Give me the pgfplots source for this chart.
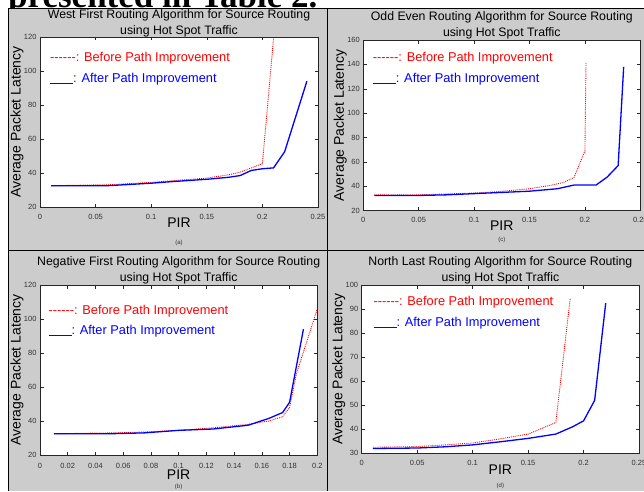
\documentclass[border=0pt]{standalone}
\usepackage{fontspec}
\setmainfont{Liberation Sans}
\newfontfamily\serifb{Liberation Serif}
\usepackage{pgfplots}
\pgfplotsset{compat=1.18}
\definecolor{bg}{RGB}{204,204,204}
\definecolor{mred}{RGB}{255,0,0}
\definecolor{mblue}{RGB}{0,0,255}
\pgfplotsset{
 panel/.style={
  scale only axis,
  axis background/.style={fill=white},
  axis line style={black!85, line width=0.6pt},
  tick style={black!85, line width=0.5pt},
  major tick length=3.5pt,
  tick align=inside,
  xtick pos=both, ytick pos=both,
  /pgf/number format/assume math mode=true,
  /pgf/number format/fixed,
  ticklabel style={font=\fontsize{7.5}{9}\selectfont, text=black!80},
  xticklabel style={yshift=-3.5pt},
  ylabel={Average Packet Latency},
  xlabel={PIR},
  label style={font=\fontsize{14}{16}\selectfont},
  xlabel style={at={([yshift=-16pt]axis description cs:0.5,0)}, anchor=center},
  ylabel style={at={([xshift=-23pt]axis description cs:0,0.5)}, anchor=center},
  title style={font=\fontsize{12.3}{16}\selectfont, align=center, at={([yshift=8.3pt]axis description cs:0.5,1)}, anchor=center},
  clip=false,
 },
 before/.style={mred, densely dotted, line width=0.9pt},
 after/.style={mblue, solid, line width=1.3pt},
}
\newcommand{\legtxt}[3]{%
  \node[anchor=west, font=\fontsize{12.8}{14}\selectfont, text=mred, inner sep=0pt] at (rel axis cs:#1,#2) {-{}-{}-{}-{}-{}-: Before Path Improvement};
  \node[anchor=west, font=\fontsize{12.8}{14}\selectfont, text=mblue, inner sep=0pt] at (rel axis cs:#1,#3) {\rule[-1.8pt]{23pt}{1.2pt}: After Path Improvement};
}
\newcommand{\subcap}[2]{%
  \node[font=\fontsize{6}{7}\selectfont, text=black!80] at ([yshift=-#2pt]rel axis cs:0.5,0) {#1};
}
\begin{document}
\begin{tikzpicture}
\useasboundingbox (0pt,0pt) rectangle (644pt,491pt);
\clip (0pt,0pt) rectangle (644pt,491pt);
\fill[white] (0pt,0pt) rectangle (644pt,491pt);
\node[anchor=base west, inner sep=0pt, font=\serifb\bfseries\fontsize{35}{38}\selectfont] at (8pt,483.5pt) {presented in Table 2.};
\fill[bg] (8pt,0pt) rectangle (644pt,482.5pt);
\draw[black, line width=0.8pt] (8pt,0pt) -- (8pt,482.5pt) -- (644pt,482.5pt);
\draw[black, line width=0.8pt] (8pt,240.5pt) -- (644pt,240.5pt);
\draw[black, line width=0.8pt] (327.5pt,0pt) -- (327.5pt,482.5pt);

% (a) West First
\begin{axis}[panel, at={(40pt,284pt)}, anchor=south west, width=278pt, height=170pt,
  xmin=0, xmax=0.25, ymin=20, ymax=120,
  xtick={0,0.05,0.1,0.15,0.2,0.25}, ytick={20,40,60,80,100,120},
  title style={at={([yshift=7.3pt]axis description cs:0.5,1)}},
  title={West First Routing Algorithm for Source Routing\\using Hot Spot Traffic}]
\addplot[before] coordinates {(0.01,32.5)(0.05,33)(0.06,33)(0.1,34.5)(0.12,35.5)(0.15,37)(0.17,39)(0.18,40.5)(0.19,43)(0.2,45.5)(0.21,119)};
\addplot[after] coordinates {(0.01,32.5)(0.05,32.5)(0.06,32.5)(0.1,34)(0.12,35)(0.15,36.3)(0.17,37.5)(0.18,38.5)(0.19,41.5)(0.2,42.5)(0.21,43)(0.22,52.5)(0.24,94)};
\legtxt{0.036}{0.876}{0.753}
\subcap{(a)}{36}
\end{axis}

% (c) Odd Even
\begin{axis}[panel, at={(363.3pt,280.3pt)}, anchor=south west, width=277pt, height=170.7pt,
  xmin=0, xmax=0.25, ymin=20, ymax=160,
  xtick={0,0.05,0.1,0.15,0.2,0.25}, ytick={20,40,60,80,100,120,140,160},
  xlabel style={at={([yshift=-15pt]axis description cs:0.5,0)}},
  title={Odd Even Routing Algorithm for Source Routing\\using Hot Spot Traffic}]
\addplot[before] coordinates {(0.01,33)(0.05,33)(0.1,34.5)(0.12,35.5)(0.15,38)(0.17,41)(0.18,43)(0.19,47)(0.2,69)(0.201,142)};
\addplot[after] coordinates {(0.01,32.5)(0.05,32.5)(0.075,33)(0.1,34)(0.125,35)(0.15,36)(0.175,38)(0.19,41)(0.21,41)(0.22,47.5)(0.23,57)(0.235,138)};
\legtxt{0.034}{0.893}{0.772}
\subcap{(c)}{29}
\end{axis}

% (b) Negative First
\begin{axis}[panel, at={(40pt,36pt)}, anchor=south west, width=277.3pt, height=170pt,
  xmin=0, xmax=0.2, ymin=20, ymax=120,
  xtick={0,0.02,0.04,0.06,0.08,0.1,0.12,0.14,0.16,0.18,0.2}, ytick={20,40,60,80,100,120},
  xticklabel style={yshift=-1.5pt},
  xlabel style={at={([yshift=-20pt]axis description cs:0.5,0)}},
  title={Negative First Routing Algorithm for Source Routing\\using Hot Spot Traffic}]
\addplot[before] coordinates {(0.01,32.5)(0.05,33)(0.075,33.5)(0.1,34.5)(0.125,36)(0.15,38)(0.165,40)(0.175,42.5)(0.18,48)(0.185,68)(0.2,106)};
\addplot[after] coordinates {(0.01,32.5)(0.05,32.5)(0.075,33)(0.1,34.5)(0.125,35.3)(0.15,37.5)(0.165,41.5)(0.175,45)(0.18,51)(0.19,94)};
\legtxt{0.03}{0.847}{0.729}
\subcap{(b)}{31.7}
\end{axis}

% (d) North Last
\begin{axis}[panel, at={(361.7pt,37.7pt)}, anchor=south west, width=277.3pt, height=168.3pt,
  xmin=0, xmax=0.25, ymin=30, ymax=100,
  xtick={0,0.05,0.1,0.15,0.2,0.25}, ytick={30,40,50,60,70,80,90,100},
  title={North Last Routing Algorithm for Source Routing\\using Hot Spot Traffic}]
\addplot[before] coordinates {(0.01,32.5)(0.05,32.8)(0.075,33.5)(0.1,34.3)(0.125,36)(0.15,38)(0.175,42.8)(0.188,94.5)};
\addplot[after] coordinates {(0.01,32)(0.05,32.2)(0.075,32.7)(0.1,33.5)(0.125,34.8)(0.15,36.2)(0.175,38)(0.19,41)(0.2,43.5)(0.21,52)(0.22,92.5)};
\legtxt{0.042}{0.895}{0.776}
\subcap{(d)}{32.7}
\end{axis}
\end{tikzpicture}
\end{document}
